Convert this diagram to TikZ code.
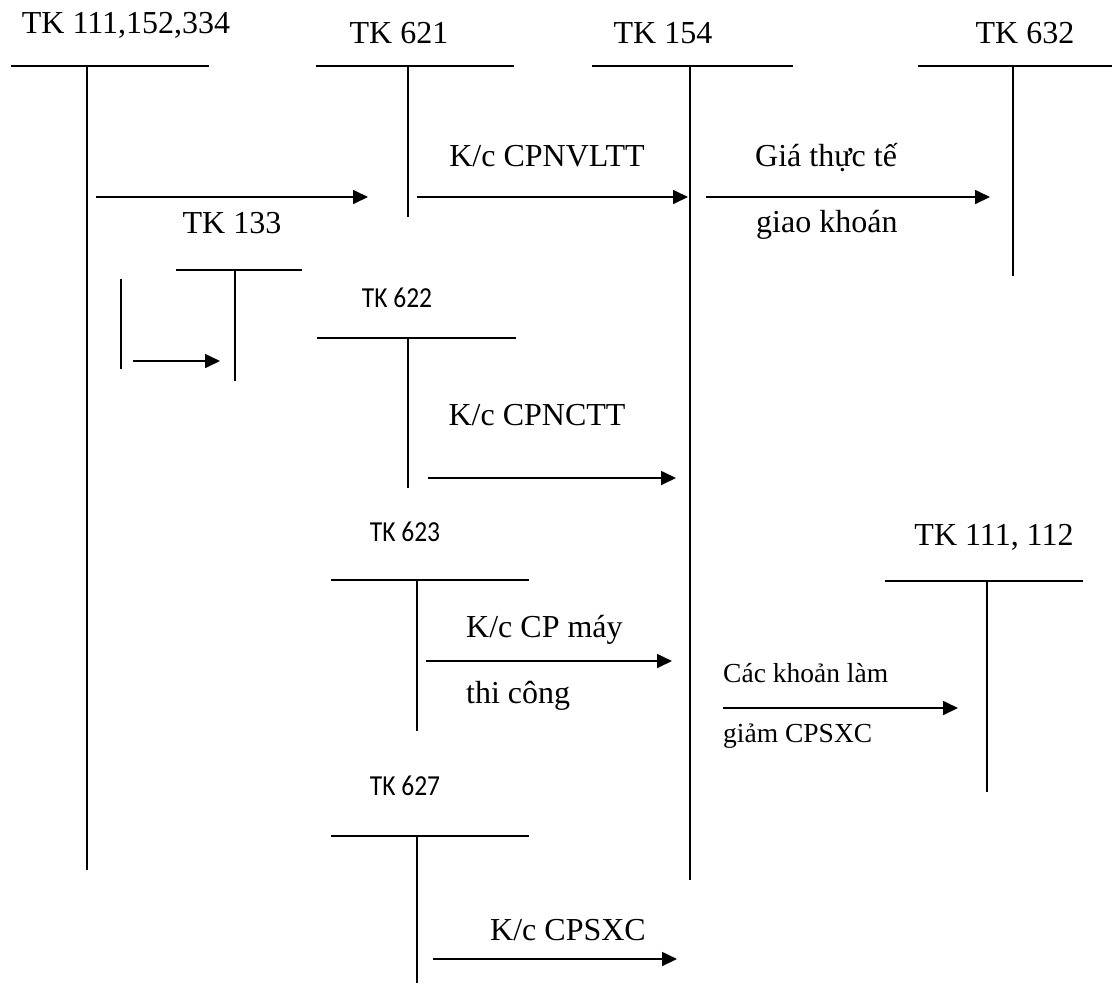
\documentclass[tikz,border=0pt]{standalone}
\usepackage{fontspec}
\setmainfont{Liberation Serif}
\newfontfamily\tksans[FakeStretch=0.88]{Carlito}
\usetikzlibrary{arrows.meta}
\tikzset{
  acct/.style={line width=1.7pt},
  arr/.style={line width=1.7pt, -{Triangle[length=15pt,width=14pt]}},
  lbl/.style={font=\fontsize{32}{38}\selectfont, anchor=base, inner sep=0pt},
  lblw/.style={font=\fontsize{32}{38}\selectfont, anchor=base west, inner sep=0pt},
  smallw/.style={font=\fontsize{27.5}{32}\selectfont, anchor=base west, inner sep=0pt},
  sanslbl/.style={font=\tksans\fontsize{29}{34}\selectfont, anchor=base, inner sep=0pt}
}
\begin{document}
\begin{tikzpicture}[x=1pt,y=-1pt]
\useasboundingbox (0,0) rectangle (1115,983);

% ---- account coordinates ----
\coordinate (aL) at (11,66);  \coordinate (aR) at (209,66);
\coordinate (aT) at (87,66);  \coordinate (aB) at (87,870);
\coordinate (bL) at (316,66); \coordinate (bR) at (514,66);
\coordinate (bT) at (408,66); \coordinate (bB) at (408,217);
\coordinate (cL) at (592,66); \coordinate (cR) at (793,66);
\coordinate (cT) at (690,66); \coordinate (cB) at (690,880);
\coordinate (dL) at (918,66); \coordinate (dR) at (1112,66);
\coordinate (dT) at (1013,66); \coordinate (dB) at (1013,276);
\coordinate (eL) at (176,270); \coordinate (eR) at (302,270);
\coordinate (eT) at (235,270); \coordinate (eB) at (235,381);
\coordinate (sT) at (121,279); \coordinate (sB) at (121,369);
\coordinate (fL) at (317,338); \coordinate (fR) at (516,338);
\coordinate (fT) at (408,338); \coordinate (fB) at (408,488);
\coordinate (gL) at (331,580); \coordinate (gR) at (529,580);
\coordinate (gT) at (417,580); \coordinate (gB) at (417,731);
\coordinate (hL) at (331,836); \coordinate (hR) at (529,836);
\coordinate (hT) at (417,836); \coordinate (hB) at (417,983);
\coordinate (iL) at (885,581); \coordinate (iR) at (1083,581);
\coordinate (iT) at (987,581); \coordinate (iB) at (987,792);

% ---- T-accounts ----
\foreach \k in {a,b,c,d,e,f,g,h,i}{
  \draw[acct] (\k L) -- (\k R);
  \draw[acct] (\k T) -- (\k B);
}
\draw[acct] (sT) -- (sB);

% ---- account titles ----
\node[lbl] (ta) at (126,33) {TK 111,152,334};
\node[lbl] (tb) at (399,43) {TK 621};
\node[lbl] (tc) at (663,43) {TK 154};
\node[lbl] (td) at (1025,43) {TK 632};
\node[lbl] (te) at (232,233) {TK 133};
\node[sanslbl] (tf) at (397,307) {TK 622};
\node[sanslbl] (tg) at (405,541) {TK 623};
\node[sanslbl] (th) at (405,795) {TK 627};
\node[lbl] (ti) at (994,545) {TK 111, 112};

% ---- arrows ----
\coordinate (e1s) at (96,197);  \coordinate (e1t) at (368,197);
\coordinate (e2s) at (417,197); \coordinate (e2t) at (688,197);
\coordinate (e3s) at (706,197); \coordinate (e3t) at (990,197);
\coordinate (e4s) at (133,361); \coordinate (e4t) at (220,361);
\coordinate (e5s) at (428,478); \coordinate (e5t) at (676,478);
\coordinate (e6s) at (426,661); \coordinate (e6t) at (672,661);
\coordinate (e7s) at (723,708); \coordinate (e7t) at (958,708);
\coordinate (e8s) at (433,959); \coordinate (e8t) at (677,959);
\foreach \k in {1,...,8}{ \draw[arr] (e\k s) -- (e\k t); }

% ---- arrow labels ----
\node[lbl] (l2) at (547,166) {K/c CPNVLTT};
\node[lblw] (l3a) at (755,166) {Giá thực tế};
\node[lblw] (l3b) at (756,232) {giao khoán};
\node[lbl] (l5) at (537,425) {K/c CPNCTT};
\node[lblw] (l6a) at (466,637) {K/c CP máy};
\node[lblw] (l6b) at (466,703) {thi công};
\node[smallw] (l7a) at (723,682) {Các khoản làm};
\node[smallw] (l7b) at (723,742) {giảm CPSXC};
\node[lbl] (l8) at (568,940) {K/c CPSXC};
\end{tikzpicture}
\end{document}
